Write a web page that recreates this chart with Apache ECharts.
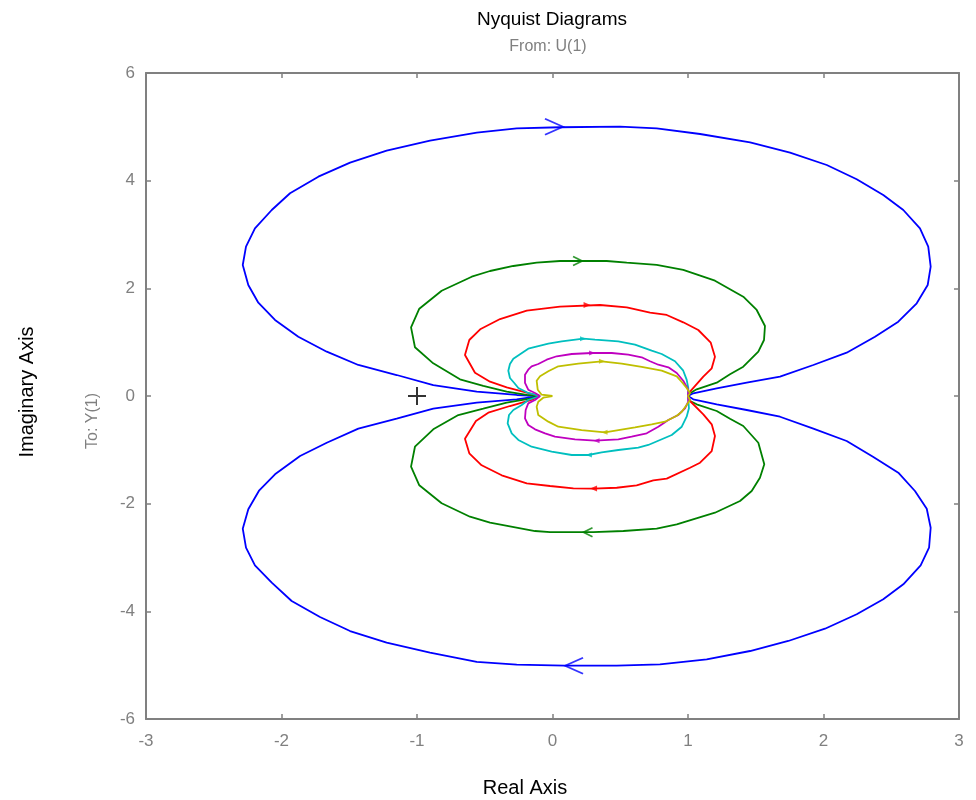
<!DOCTYPE html>
<html>
<head>
<meta charset="utf-8">
<script src="https://cdn.jsdelivr.net/npm/echarts@6/dist/echarts.min.js"></script>
<style>html,body{margin:0;padding:0;background:#fff;}#chart{width:976px;height:800px;}</style>
</head>
<body>
<div id="chart"></div>
<script>
// ---- Data ----
const xRange = [-3, 3];
const yRange = [-6, 6];

const blueUpper = [[-0.092,0],[-0.264,0.019],[-0.559,0.080],[-0.880,0.204],[-1.150,0.390],[-1.433,0.576],[-1.666,0.823],[-1.876,1.102],[-2.048,1.412],[-2.171,1.733],[-2.245,2.062],[-2.286,2.434],[-2.262,2.774],[-2.196,3.115],[-2.072,3.455],[-1.937,3.766],[-1.728,4.074],[-1.494,4.334],[-1.224,4.557],[-0.904,4.743],[-0.559,4.891],[-0.264,4.973],[0.055,4.992],[0.498,5.003],[0.769,4.973],[1.089,4.867],[1.458,4.713],[1.753,4.520],[2.024,4.291],[2.245,4.026],[2.441,3.734],[2.589,3.455],[2.712,3.115],[2.773,2.774],[2.791,2.402],[2.769,2.062],[2.688,1.722],[2.552,1.380],[2.380,1.102],[2.171,0.804],[1.925,0.576],[1.679,0.359],[1.433,0.247],[1.212,0.143],[1.039,0.050],[1.0,0]];
const blueLower = [[1.0,0],[1.039,-0.061],[1.212,-0.154],[1.433,-0.260],[1.679,-0.385],[1.925,-0.607],[2.171,-0.836],[2.368,-1.133],[2.552,-1.425],[2.675,-1.765],[2.762,-2.094],[2.791,-2.447],[2.779,-2.818],[2.717,-3.145],[2.589,-3.498],[2.441,-3.777],[2.245,-4.055],[2.011,-4.323],[1.740,-4.551],[1.458,-4.737],[1.138,-4.891],[0.793,-4.984],[0.474,-5.010],[0.092,-5.010],[-0.264,-4.990],[-0.559,-4.940],[-0.904,-4.769],[-1.224,-4.583],[-1.494,-4.366],[-1.716,-4.106],[-1.925,-3.808],[-2.072,-3.468],[-2.196,-3.145],[-2.262,-2.818],[-2.286,-2.465],[-2.245,-2.105],[-2.164,-1.752],[-2.048,-1.455],[-1.863,-1.115],[-1.666,-0.868],[-1.433,-0.607],[-1.150,-0.422],[-0.880,-0.236],[-0.559,-0.124],[-0.264,-0.061],[-0.092,0]];

const greenUpper = [[-0.092,0],[-0.190,0.019],[-0.338,0.080],[-0.511,0.186],[-0.683,0.310],[-0.880,0.607],[-1.015,0.905],[-1.044,1.276],[-0.983,1.622],[-0.818,1.956],[-0.596,2.216],[-0.461,2.322],[-0.289,2.415],[-0.117,2.476],[0.055,2.508],[0.400,2.508],[0.548,2.476],[0.769,2.434],[0.965,2.341],[1.199,2.142],[1.408,1.845],[1.507,1.598],[1.568,1.300],[1.561,1.040],[1.519,0.823],[1.408,0.544],[1.310,0.403],[1.212,0.247],[1.064,0.124],[1.015,0.050],[1.0,0]];
const greenLower = [[1.0,0],[1.015,-0.093],[1.064,-0.154],[1.212,-0.279],[1.310,-0.422],[1.408,-0.557],[1.519,-0.868],[1.563,-1.269],[1.531,-1.518],[1.470,-1.765],[1.384,-1.951],[1.199,-2.168],[0.917,-2.383],[0.769,-2.465],[0.523,-2.508],[0.301,-2.530],[-0.018,-2.530],[-0.129,-2.508],[-0.461,-2.354],[-0.609,-2.242],[-0.818,-1.993],[-0.983,-1.659],[-1.044,-1.313],[-1.015,-0.942],[-0.880,-0.619],[-0.695,-0.353],[-0.511,-0.236],[-0.338,-0.124],[-0.166,-0.050],[-0.092,0]];

const redUpper = [[-0.092,0],[-0.190,0.061],[-0.338,0.162],[-0.461,0.266],[-0.572,0.433],[-0.646,0.762],[-0.614,1.040],[-0.530,1.245],[-0.387,1.430],[-0.190,1.585],[0.055,1.659],[0.351,1.690],[0.548,1.648],[0.720,1.547],[0.843,1.505],[0.965,1.369],[1.076,1.226],[1.168,0.990],[1.199,0.730],[1.175,0.515],[1.113,0.359],[1.015,0.080],[1.0,0]];
const redLower = [[1.0,0],[1.015,-0.093],[1.113,-0.340],[1.175,-0.526],[1.199,-0.743],[1.175,-1.022],[1.089,-1.239],[1.015,-1.332],[0.843,-1.536],[0.744,-1.566],[0.621,-1.659],[0.474,-1.704],[0.301,-1.720],[0.154,-1.715],[-0.018,-1.672],[-0.190,-1.622],[-0.375,-1.473],[-0.523,-1.287],[-0.614,-1.064],[-0.646,-0.793],[-0.565,-0.464],[-0.474,-0.310],[-0.314,-0.186],[-0.142,-0.061],[-0.092,0]];

const cyanUpper = [[-0.092,0],[-0.179,0.056],[-0.252,0.149],[-0.282,0.242],[-0.314,0.334],[-0.326,0.470],[-0.314,0.594],[-0.289,0.693],[-0.179,0.879],[-0.031,0.972],[0.068,1.016],[0.227,1.064],[0.314,1.046],[0.486,1.016],[0.609,0.953],[0.732,0.842],[0.806,0.780],[0.904,0.645],[0.965,0.470],[0.990,0.303],[1.002,0.149],[1.0,0]];
const cyanLower = [[1.0,0],[1.007,-0.228],[0.990,-0.385],[0.954,-0.570],[0.880,-0.725],[0.707,-0.910],[0.633,-0.960],[0.486,-1.003],[0.363,-1.046],[0.264,-1.096],[0.142,-1.096],[-0.006,-1.035],[-0.154,-0.942],[-0.252,-0.817],[-0.301,-0.693],[-0.331,-0.507],[-0.321,-0.353],[-0.289,-0.260],[-0.227,-0.167],[-0.179,-0.074],[-0.092,0]];

const magentaUpper = [[-0.092,0],[-0.129,0.056],[-0.179,0.117],[-0.203,0.242],[-0.203,0.396],[-0.179,0.489],[-0.154,0.552],[-0.105,0.594],[-0.043,0.674],[0.031,0.738],[0.142,0.780],[0.289,0.799],[0.437,0.799],[0.559,0.767],[0.658,0.719],[0.720,0.645],[0.781,0.581],[0.855,0.533],[0.917,0.427],[0.965,0.284],[1.002,0.117],[1.0,0]];
const magentaLower = [[1.0,0],[1.002,-0.106],[0.978,-0.228],[0.928,-0.353],[0.855,-0.446],[0.781,-0.570],[0.695,-0.693],[0.584,-0.756],[0.486,-0.804],[0.314,-0.830],[0.166,-0.804],[0.018,-0.756],[-0.055,-0.693],[-0.129,-0.619],[-0.179,-0.539],[-0.203,-0.414],[-0.198,-0.260],[-0.179,-0.136],[-0.129,-0.074],[-0.092,0]];

const yellowUpper = [[0,0],[-0.080,0.024],[-0.109,0.117],[-0.117,0.284],[-0.092,0.366],[-0.031,0.459],[0.043,0.552],[0.190,0.600],[0.363,0.645],[0.511,0.600],[0.658,0.539],[0.806,0.470],[0.917,0.366],[0.954,0.260],[0.990,0.149],[1.015,0.056],[1.0,0]];
const yellowLower = [[1.0,0],[1.015,-0.074],[0.990,-0.167],[0.954,-0.292],[0.917,-0.366],[0.830,-0.477],[0.732,-0.526],[0.609,-0.581],[0.387,-0.674],[0.215,-0.632],[0.043,-0.570],[-0.031,-0.477],[-0.105,-0.353],[-0.117,-0.199],[-0.105,-0.106],[-0.068,-0.032],[0,0]];

// arrow centres (upper = pointing right, lower = pointing left)
const blueArrows = [[0.011,5.0],[0.159,-5.01]];
const greenArrows = [[0.185,2.508],[0.262,-2.53]];
const redArrows = [[0.255,1.690],[0.303,-1.720]];
const cyanArrows = [[0.225,1.064],[0.269,-1.096]];
const magentaArrows = [[0.292,0.799],[0.325,-0.830]];
const yellowArrows = [[0.365,0.645],[0.384,-0.674]];

const criticalPoint = [[-1,0]];

// ---- Chart ----
const FONT = '"Liberation Sans", Arial, Helvetica, sans-serif';
const AX = '#808080';
const chart = echarts.init(document.getElementById('chart'), null, {renderer:'canvas'});

const curves = [
  {color:'#0000ff', up:blueUpper, lo:blueLower, arrows:blueArrows, chevron:true, size:[18,16]},
  {color:'#008000', up:greenUpper, lo:greenLower, arrows:greenArrows, chevron:true, size:[9,9]},
  {color:'#ff0000', up:redUpper, lo:redLower, arrows:redArrows, chevron:false, size:[7,6]},
  {color:'#00bfbf', up:cyanUpper, lo:cyanLower, arrows:cyanArrows, chevron:false, size:[6,5]},
  {color:'#bf00bf', up:magentaUpper, lo:magentaLower, arrows:magentaArrows, chevron:false, size:[6,5]},
  {color:'#bfbf00', up:yellowUpper, lo:yellowLower, arrows:yellowArrows, chevron:false, size:[6,5]}
];

const series = [];
curves.forEach(c => {
  series.push({
    type:'line', data:c.up.concat(c.lo), showSymbol:false, symbol:'none',
    lineStyle:{color:c.color, width:1.8}, silent:true, z:2
  });
  const chev = 'path://M0,0L18,8L0,16';
  const tri = 'path://M0,0L10,5L0,10Z';
  c.arrows.forEach((p, i) => {
    series.push({
      type:'scatter', data:[p], symbol: c.chevron ? chev : tri,
      symbolSize:c.size, symbolRotate: i === 0 ? 0 : 180,
      itemStyle: c.chevron ? {color:'none', borderColor:c.color, borderWidth:1.8} : {color:c.color},
      silent:true, z:3
    });
  });
});
series.push({
  type:'scatter', data:criticalPoint, symbol:'path://M0,9L18,9M9,0L9,18', symbolSize:18,
  itemStyle:{color:'none', borderColor:'#000', borderWidth:2}, silent:true, z:4
});

const axisCommon = {
  type:'value', splitLine:{show:false},
  axisLine:{show:true, onZero:false, lineStyle:{color:AX, width:2}},
  axisTick:{show:true, inside:true, length:5, lineStyle:{color:AX, width:1.5}}
};

chart.setOption({
  animation:false,
  backgroundColor:'#fff',
  grid:{left:146, right:17, top:73, bottom:81, containLabel:false},
  xAxis:[
    Object.assign({}, axisCommon, {position:'bottom', min:xRange[0], max:xRange[1], interval:1,
      axisLabel:{color:AX, fontSize:17, fontFamily:FONT, margin:14}}),
    Object.assign({}, axisCommon, {position:'top', min:xRange[0], max:xRange[1], interval:1,
      axisLabel:{show:false}})
  ],
  yAxis:[
    Object.assign({}, axisCommon, {position:'left', min:yRange[0], max:yRange[1], interval:2,
      axisLabel:{color:AX, fontSize:17, fontFamily:FONT, margin:11}}),
    Object.assign({}, axisCommon, {position:'right', min:yRange[0], max:yRange[1], interval:2,
      axisLabel:{show:false}})
  ],
  graphic:[
    {type:'text', x:552, y:20, style:{text:'Nyquist Diagrams', font:'19px '+FONT, fill:'#000', textAlign:'center', textVerticalAlign:'middle'}},
    {type:'text', x:548, y:47, style:{text:'From: U(1)', font:'16px '+FONT, fill:AX, textAlign:'center', textVerticalAlign:'middle'}},
    {type:'text', x:525, y:788, style:{text:'Real Axis', font:'20px '+FONT, fill:'#000', textAlign:'center', textVerticalAlign:'middle'}},
    {type:'text', x:27, y:392, rotation:Math.PI/2, style:{text:'Imaginary Axis', font:'20px '+FONT, fill:'#000', textAlign:'center', textVerticalAlign:'middle'}},
    {type:'text', x:93, y:421, rotation:Math.PI/2, style:{text:'To: Y(1)', font:'16px '+FONT, fill:AX, textAlign:'center', textVerticalAlign:'middle'}}
  ],
  series: series
});
</script>
</body>
</html>
